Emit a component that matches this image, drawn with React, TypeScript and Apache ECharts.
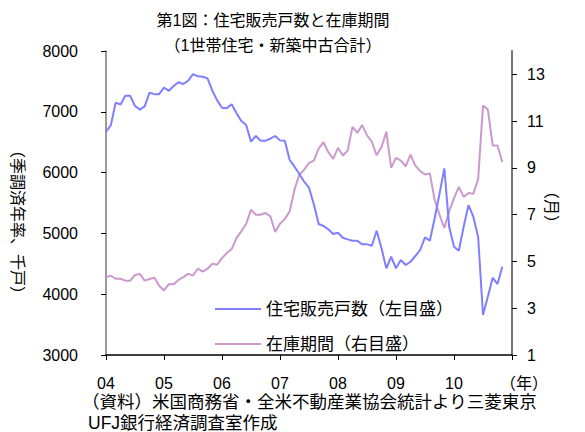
import React, { useEffect, useRef } from "react";
import * as echarts from "echarts";

const yearLabels = ["04", "05", "06", "07", "08", "09", "10"];
const firstYear = 2004;
const lastYear = 2010;

// monthly, Jan 2004 .. Nov 2010 (thousand units, SAAR)
const salesValues = [
  6670, 6780, 7150, 7120, 7265, 7265, 7095, 7035, 7090, 7315, 7290, 7290,
  7400, 7345, 7425, 7485, 7457, 7512, 7620, 7583, 7577, 7550, 7347, 7188,
  7067, 7060, 7123, 6975, 6848, 6783, 6508, 6602, 6525, 6525, 6557, 6602,
  6530, 6525, 6207, 6097, 5977, 5850, 5751, 5480, 5154, 5121, 5067, 4990,
  5011, 4929, 4902, 4880, 4880, 4820, 4820, 4797, 5044, 4754, 4425, 4616,
  4425, 4562, 4480, 4534, 4628, 4727, 4935, 4880, 5250, 5650, 6070, 5110,
  4781, 4715, 5110, 5467, 5274, 4935, 3657, 3960, 4271, 4167, 4452,
];

// months' supply
const inventoryValues = [
  4.33, 4.39, 4.26, 4.26, 4.18, 4.18, 4.42, 4.47, 4.18, 4.25, 4.31, 3.96,
  3.76, 4.03, 4.03, 4.21, 4.33, 4.47, 4.4, 4.69, 4.57, 4.69, 4.9, 4.86,
  5.14, 5.36, 5.53, 6.0, 6.29, 6.61, 7.21, 7.0, 7.0, 7.07, 6.93, 6.26,
  6.61, 6.82, 7.14, 8.07, 8.71, 8.93, 9.21, 9.31, 9.82, 10.1, 9.67, 9.39,
  9.86, 9.53, 9.74, 10.76, 10.5, 10.83, 10.39, 10.12, 9.54, 9.89, 10.55, 9.0,
  9.43, 9.31, 9.07, 9.57, 9.1, 8.86, 8.72, 8.76, 7.64, 7.0, 6.43, 7.14,
  7.71, 8.19, 7.76, 7.93, 7.89, 8.53, 11.67, 11.5, 9.96, 9.96, 9.24,
];

const rightTicks = [1, 3, 5, 7, 9, 11, 13];

const salesName = "住宅販売戸数（左目盛）";
const inventoryName = "在庫期間（右目盛）";

const months: string[] = [];
for (let y = firstYear; y <= lastYear; y++) {
  for (let m = 1; m <= 12; m++) {
    months.push(`${y}-${m < 10 ? "0" + m : m}`);
  }
}
months.push(`${lastYear + 1}-01`);

const FONT = "'Liberation Sans', 'Noto Sans CJK JP', sans-serif";

export default function App() {
  const ref = useRef<HTMLDivElement>(null);
  useEffect(() => {
    if (!ref.current) return;
    const chart = echarts.init(ref.current, null, { renderer: "svg" });
    chart.setOption({
      animation: false,
      backgroundColor: "#ffffff",
      textStyle: { fontFamily: FONT, color: "#000" },
      grid: { left: 106, right: 73, top: 51, bottom: 77, containLabel: false },
      legend: {
        orient: "vertical",
        left: 210,
        top: 294,
        icon: "rect",
        itemWidth: 46,
        itemHeight: 2,
        itemGap: 15,
        textStyle: { fontSize: 17, lineHeight: 20, color: "#000", fontFamily: FONT },
        data: [salesName, inventoryName],
      },
      xAxis: {
        type: "category",
        data: months,
        boundaryGap: false,
        axisLine: { lineStyle: { color: "#000", width: 1.5 } },
        axisTick: {
          show: true,
          inside: false,
          length: 5,
          interval: (i: number) => i % 12 === 0,
          lineStyle: { color: "#000" },
        },
        axisLabel: {
          interval: (i: number) => i % 12 === 0 && i < months.length - 1,
          formatter: (v: string) => {
            const y = parseInt(v.slice(0, 4), 10);
            return yearLabels[y - firstYear] ?? "";
          },
          fontSize: 16,
          margin: 20,
          color: "#000",
          fontFamily: FONT,
        },
        splitLine: { show: false },
      },
      yAxis: [
        {
          type: "value",
          min: 3000,
          max: 8000,
          interval: 1000,
          position: "left",
          axisLine: { show: true, lineStyle: { color: "#777", width: 1.5 } },
          axisTick: { show: true, inside: false, length: 5, lineStyle: { color: "#000" } },
          axisLabel: {
            fontSize: 16,
            margin: 28,
            color: "#000",
            fontFamily: FONT,
            formatter: (v: number) => String(v),
          },
          splitLine: { show: false },
        },
        {
          type: "value",
          min: 1,
          max: 14,
          position: "right",
          axisLine: { show: true, lineStyle: { color: "#777", width: 2 } },
          axisTick: {
            show: true,
            inside: false,
            length: 5,
            customValues: rightTicks,
            lineStyle: { color: "#000" },
          },
          axisLabel: {
            customValues: rightTicks,
            fontSize: 16,
            margin: 15,
            color: "#000",
            fontFamily: FONT,
          },
          splitLine: { show: false },
        },
      ],
      series: [
        {
          name: inventoryName,
          type: "line",
          yAxisIndex: 1,
          data: inventoryValues,
          showSymbol: false,
          symbol: "none",
          lineStyle: { color: "#CC99CC", width: 2 },
          itemStyle: { color: "#CC99CC" },
          z: 2,
        },
        {
          name: salesName,
          type: "line",
          yAxisIndex: 0,
          data: salesValues,
          showSymbol: false,
          symbol: "none",
          lineStyle: { color: "#7F7FFF", width: 2 },
          itemStyle: { color: "#7F7FFF" },
          z: 3,
        },
      ],
      graphic: [
        {
          type: "text",
          x: 273,
          y: 20,
          style: {
            text: "第1図：住宅販売戸数と在庫期間",
            fontSize: 16,
            fontFamily: FONT,
            fill: "#000",
            align: "center",
            verticalAlign: "middle",
          },
        },
        {
          type: "text",
          x: 273,
          y: 45,
          style: {
            text: "（1世帯住宅・新築中古合計）",
            fontSize: 16,
            fontFamily: FONT,
            fill: "#000",
            align: "center",
            verticalAlign: "middle",
          },
        },
        {
          type: "text",
          x: 17,
          y: 222,
          rotation: -Math.PI / 2,
          style: {
            text: "（季調済年率、千戸）",
            fontSize: 16,
            fontFamily: FONT,
            fill: "#000",
            align: "center",
            verticalAlign: "middle",
          },
        },
        {
          type: "text",
          x: 551,
          y: 207,
          rotation: -Math.PI / 2,
          style: {
            text: "（月）",
            fontSize: 16,
            fontFamily: FONT,
            fill: "#000",
            align: "center",
            verticalAlign: "middle",
          },
        },
        {
          type: "text",
          x: 548,
          y: 383,
          style: {
            text: "（年）",
            fontSize: 16,
            fontFamily: FONT,
            fill: "#000",
            align: "right",
            verticalAlign: "middle",
          },
        },
        {
          type: "text",
          x: 82,
          y: 402,
          style: {
            text: "（資料）米国商務省・全米不動産業協会統計より三菱東京",
            fontSize: 17.5,
            fontFamily: FONT,
            fill: "#000",
            align: "left",
            verticalAlign: "middle",
          },
        },
        {
          type: "text",
          x: 88,
          y: 423,
          style: {
            text: "UFJ銀行経済調査室作成",
            fontSize: 17.5,
            fontFamily: FONT,
            fill: "#000",
            align: "left",
            verticalAlign: "middle",
          },
        },
      ],
    });
    return () => chart.dispose();
  }, []);
  return (
    <div
      ref={ref}
      style={{ position: "absolute", left: 0, top: 0, width: 585, height: 432 }}
    />
  );
}
